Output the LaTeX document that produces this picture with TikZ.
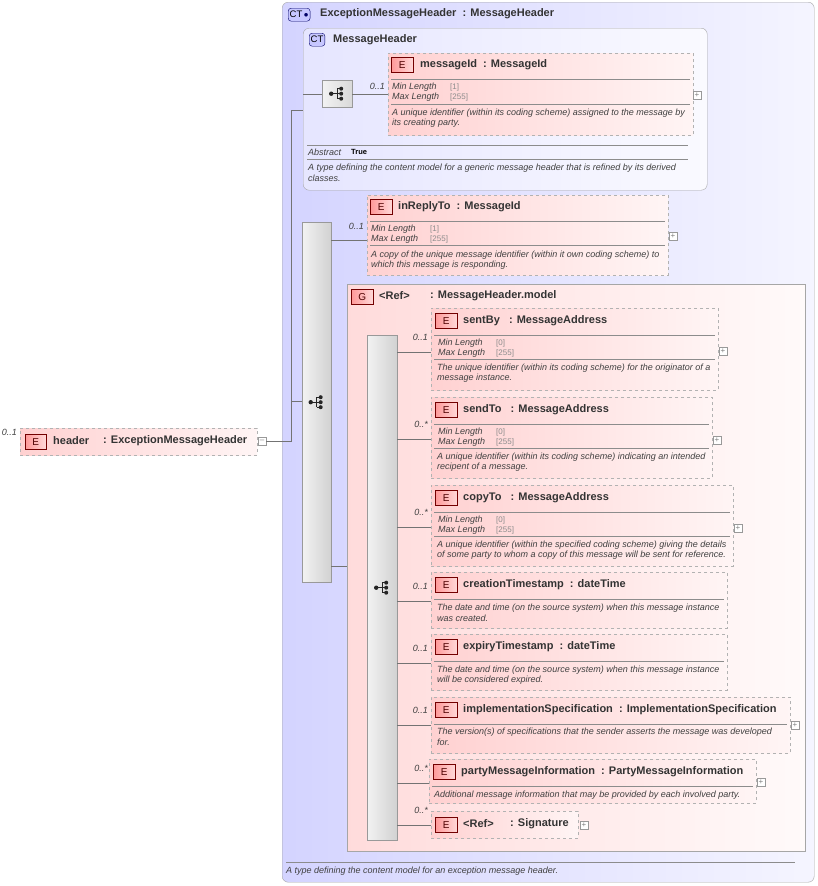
\documentclass[tikz,border=0pt]{standalone}
\usepackage{fontspec}
\setmainfont{Liberation Sans}
\usetikzlibrary{calc}
\begin{document}
\begin{tikzpicture}[x=1pt,y=-1pt,
 elem/.style={draw=black!30,dashed,left color=red!18,right color=red!4,anchor=north west,inner sep=0},
 eb/.style={draw=red!45!black,left color=red!40,right color=red!15,text=red!30!black,anchor=north west,minimum width=22pt,minimum height=15pt,inner sep=0,font=\fontsize{10}{10}\selectfont},
 ctb/.style={draw=blue!40!black,fill=blue!22,rounded corners=3pt,anchor=north west,minimum height=13pt,inner sep=1.5pt,font=\fontsize{9.5}{9.5}\selectfont},
 ttl/.style={anchor=west,inner sep=0,font=\fontsize{11}{12}\selectfont\bfseries,text=black!80},
 tx/.style={anchor=west,inner sep=0,font=\fontsize{9}{10}\selectfont\itshape,text=black!75},
 gv/.style={anchor=west,inner sep=0,font=\fontsize{8}{9}\selectfont,text=black!45},
 card/.style={anchor=south east,inner sep=1pt,font=\fontsize{9}{10}\selectfont\itshape,text=black!75},
 sep/.style={draw=black!45},
 ln/.style={draw=black!55},
 bar/.style={draw=black!40,left color=black!5,right color=black!18,anchor=north west,inner sep=0},
 pl/.style={draw=black!40,fill=white,minimum size=8pt,inner sep=0,font=\fontsize{8}{8}\selectfont,text=black!50}]
\newcommand\seqicon[1]{\fill[black!85] ($(#1)+(-6,0)$) circle (2.2pt) ($(#1)+(4,-5)$) circle (2pt) ($(#1)+(4,0)$) circle (2pt) ($(#1)+(4,5)$) circle (2pt);
 \draw[black!85,line width=1] ($(#1)+(-6,0)$) -- ($(#1)+(0,0)$) ($(#1)+(0,-5)$) -- ($(#1)+(0,5)$) ($(#1)+(0,-5)$) -- ($(#1)+(4,-5)$) ($(#1)+(0,0)$) -- ($(#1)+(4,0)$) ($(#1)+(0,5)$) -- ($(#1)+(4,5)$);}
% background
\useasboundingbox (0,0) rectangle (818,886);
\fill[white] (0,0) rectangle (818,886);
% outer CT
\node[draw=black!35,rounded corners=6pt,left color=blue!17,right color=blue!4,anchor=north west,minimum width=532pt,minimum height=880pt,inner sep=0] (outer) at (282,2) {};
\node[ctb] (ctb1) at (288,8) {CT\,\textcolor{blue!40!black}{$\bullet$}};
\node[ttl] at (320,14) {ExceptionMessageHeader\ \ : MessageHeader};
\draw[sep] (286,862) -- (795,862);
\node[tx] at (286,871) {A type defining the content model for an exception message header.};
% inner CT
\node[draw=black!35,rounded corners=6pt,left color=blue!10,right color=blue!2,anchor=north west,minimum width=404pt,minimum height=162pt,inner sep=0] (inner) at (303,28) {};
\node[ctb] (ctb2) at (309,33) {CT};
\node[ttl] at (333,40) {MessageHeader};
\node[draw=black!40,left color=black!5,right color=black!15,anchor=north west,minimum width=30pt,minimum height=27pt,inner sep=0] (seq1) at (322,80) {};
\seqicon{seq1.center}
\draw[ln] (inner.west |- seq1.west) -- (seq1.west);
% messageId
\node[elem,minimum width=305pt,minimum height=82pt] (mid) at (388,53) {};
\node[eb] (e1) at (391,57) {E};
\node[ttl] at (420,65) {messageId\ \ : MessageId};
\draw[sep] (391,79) -- (690,79); \draw[sep] (391,104) -- (690,104);
\node[tx] at (392,87) {Min Length}; \node[gv] at (450,87) {[1]};
\node[tx] at (392,97) {Max Length}; \node[gv] at (450,97) {[255]};
\node[tx] at (392,113) {A unique identifier (within its coding scheme) assigned to the message by};
\node[tx] at (392,123) {its creating party.};
\node[pl] (p1) at (697,95) {+};
\draw[ln] (seq1.east) -- (seq1.east -| mid.west);
\node[card] at (386,91) {0..1};
\draw[sep] (307,145) -- (688,145); \draw[sep] (307,159) -- (688,159);
\node[tx] at (308,152) {Abstract}; \node[anchor=west,inner sep=0,font=\fontsize{7.5}{8}\selectfont\bfseries] at (351,152) {True};
\node[tx] at (308,168) {A type defining the content model for a generic message header that is refined by its derived};
\node[tx] at (308,178) {classes.};
% big sequence bar
\node[bar,minimum width=29pt,minimum height=360pt] (bar1) at (302,222) {};
\seqicon{bar1.center}
% header element
\node[elem,minimum width=237pt,minimum height=27pt] (hdr) at (20,428) {};
\node[eb,minimum width=21pt] (e0) at (25,434) {E};
\node[ttl] at (53,441) {header};
\node[ttl] at (103,441) {: ExceptionMessageHeader};
\node[pl] (p0) at (262,441) {--};
\node[card] at (18,437) {0..1};
\coordinate (j) at (291,441);
\draw[ln] (p0.east) -- (j) -- (291,110) -- (inner.west |- 0,110);
\draw[ln] (291,401) -- (bar1.west |- 0,401);
% inReplyTo
\node[elem,minimum width=301pt,minimum height=80pt] (irt) at (367,195) {};
\node[eb] at (370,199) {E};
\node[ttl] at (398,207) {inReplyTo\ \ : MessageId};
\draw[sep] (370,221) -- (665,221); \draw[sep] (370,245) -- (665,245);
\node[tx] at (371,229) {Min Length}; \node[gv] at (430,229) {[1]};
\node[tx] at (371,239) {Max Length}; \node[gv] at (430,239) {[255]};
\node[tx] at (371,255) {A copy of the unique message identifier (within it own coding scheme) to};
\node[tx] at (371,265) {which this message is responding.};
\node[pl] at (673,236) {+};
\draw[ln] (bar1.east |- 0,240) -- (irt.west |- 0,240);
\node[card] at (365,231) {0..1};
% group
\node[draw=black!35,left color=red!14,right color=red!2,anchor=north west,minimum width=458pt,minimum height=567pt,inner sep=0] (grp) at (347,284) {};
\node[eb] at (351,289) {G};
\node[ttl] at (379,296) {<Ref>}; \node[ttl] at (430,296) {: MessageHeader.model};
\draw[ln] (bar1.east |- 0,566) -- (grp.west |- 0,566);
\node[bar,minimum width=30pt,minimum height=505pt] (bar2) at (367,335) {};
\seqicon{bar2.center}
% generic element with facets
\newcommand\elf[9]{% name x y w h title minY descA descB
 \node[elem,minimum width=#4pt,minimum height=#5pt] (#1) at (#2,#3) {};
 \node[eb] at ($(#2,#3)+(4,5)$) {E};
 \node[ttl] at ($(#2,#3)+(32,13)$) {#6};
 \draw[sep] ($(#2,#3)+(3,27)$) -- ($(#2,#3)+(#4-3,27)$);
 \draw[sep] ($(#2,#3)+(3,51)$) -- ($(#2,#3)+(#4-3,51)$);
 \node[tx] at ($(#2,#3)+(7,35)$) {Min Length}; \node[gv] at ($(#2,#3)+(65,35)$) {[#7]};
 \node[tx] at ($(#2,#3)+(7,45)$) {Max Length}; \node[gv] at ($(#2,#3)+(65,45)$) {[255]};
 \node[tx] at ($(#2,#3)+(6,60)$) {#8};
 \node[tx] at ($(#2,#3)+(6,70)$) {#9};
 \node[pl] at ($(#2,#3)+(#4+5,43)$) {+};}
\newcommand\els[7]{% name x y w h title desc
 \node[elem,minimum width=#4pt,minimum height=#5pt] (#1) at (#2,#3) {};
 \node[eb] at ($(#2,#3)+(4,5)$) {E};
 \node[ttl] at ($(#2,#3)+(32,13)$) {#6};
 \draw[sep] ($(#2,#3)+(3,27)$) -- ($(#2,#3)+(#4-3,27)$);
 #7}
\elf{sb}{431}{308}{287}{82}{sentBy\ \ \ : MessageAddress}{0}{The unique identifier (within its coding scheme) for the originator of a}{message instance.}
\elf{st}{431}{397}{281}{81}{sendTo\ \ \ : MessageAddress}{0}{A unique identifier (within its coding scheme) indicating an intended}{recipent of a message.}
\elf{ct}{431}{485}{302}{81}{copyTo\ \ \ : MessageAddress}{0}{A unique identifier (within the specified coding scheme) giving the details}{of some party to whom a copy of this message will be sent for reference.}
\els{cr}{431}{572}{296}{56}{creationTimestamp\ \ : dateTime}{\node[tx] at (437,608) {The date and time (on the source system) when this message instance}; \node[tx] at (437,618) {was created.};}
\els{ex}{431}{634}{296}{56}{expiryTimestamp\ \ : dateTime}{\node[tx] at (437,670) {The date and time (on the source system) when this message instance}; \node[tx] at (437,680) {will be considered expired.};}
\els{im}{431}{697}{359}{56}{implementationSpecification\ \ : ImplementationSpecification}{\node[tx] at (437,732) {The version(s) of specifications that the sender asserts the message was developed}; \node[tx] at (437,742) {for.}; \node[pl] at (795,725) {+};}
\els{pm}{429}{759}{327}{44}{partyMessageInformation\ \ : PartyMessageInformation}{\node[tx] at (434,795) {Additional message information that may be provided by each involved party.}; \node[pl] at (761,782) {+};}
\node[elem,minimum width=147pt,minimum height=27pt] (sg) at (431,811) {};
\node[eb] at (435,817) {E};
\node[ttl] at (463,824) {<Ref>}; \node[ttl] at (510,824) {: Signature};
\node[pl] at (584,825) {+};
\foreach \n/\y/\c in {sb/352/0..1,st/439/0..*,ct/527/0..*,cr/601/0..1,ex/663/0..1,im/725/0..1,pm/783/0..*,sg/825/0..*}{
 \draw[ln] (bar2.east |- 0,\y) -- (\n.west |- 0,\y);
 \node[card] at (429,\y-10) {\c};}
\end{tikzpicture}
\end{document}
